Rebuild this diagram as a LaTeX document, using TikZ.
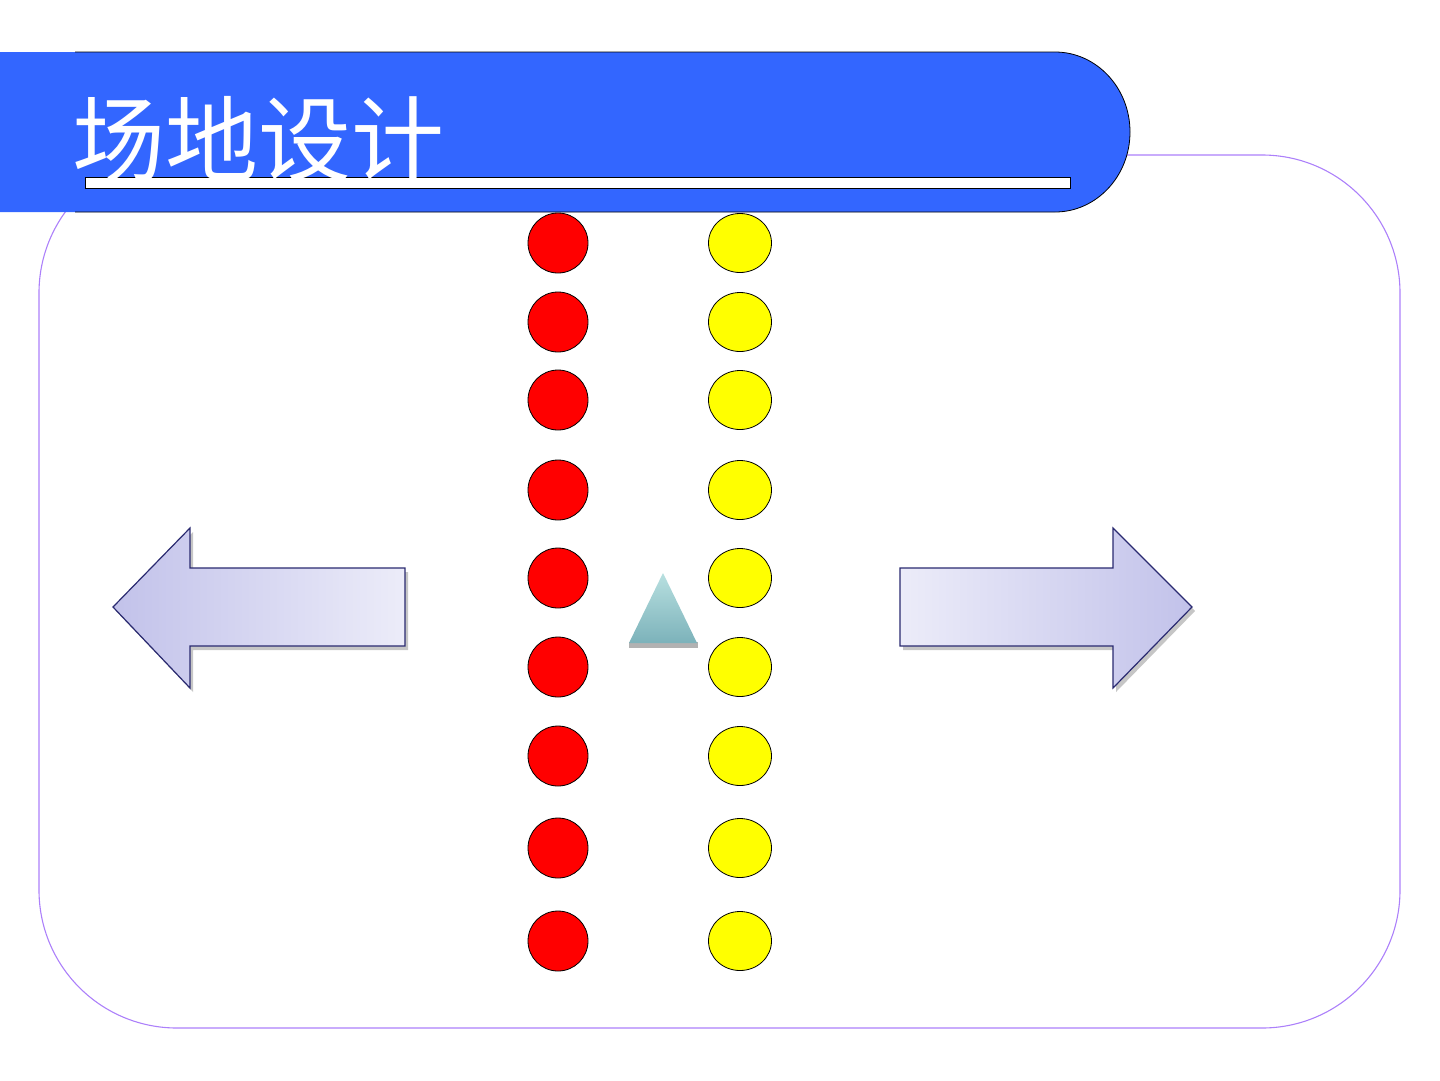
\documentclass[tikz,border=0pt]{standalone}
\usepackage{fontspec}
\usetikzlibrary{shapes.geometric}
\newfontfamily\cjk{Noto Sans CJK SC}
\definecolor{bannerblue}{RGB}{51, 102, 255}
\definecolor{lilac}{RGB}{172, 128, 250}
\definecolor{arrowline}{RGB}{42, 42, 112}
\definecolor{arrowdark}{RGB}{194, 194, 234}
\definecolor{arrowlight}{RGB}{236, 236, 249}
\definecolor{tealtop}{RGB}{184, 224, 224}
\definecolor{tealbot}{RGB}{124, 178, 186}
\definecolor{spotyellow}{RGB}{255, 255, 0}
\tikzset{
  redspot/.style={circle, draw=black, thick, fill=red, minimum size=60pt, inner sep=0pt},
  yellowspot/.style={ellipse, draw=black, thick, fill=spotyellow, minimum width=63pt, minimum height=59pt, inner sep=0pt},
  bigarrow/.style={draw=arrowline, line width=1.2pt, line join=miter}
}
\begin{document}
\begin{tikzpicture}[x=1pt, y=-1pt]
            \useasboundingbox (0,0) rectangle (1440,1080);
            % field frame
            \draw[color=lilac, line width=1.1pt, rounded corners=138pt] (39,155) rectangle (1400,1028);
            % title banner
            \fill[color=bannerblue] (0,52) -- (1055,52) arc[start angle=-90, end angle=90, x radius=75, y radius=80] -- (0,212) -- cycle;
            \draw[color=black, thick] (75,52) -- (1055,52) arc[start angle=-90, end angle=90, x radius=75, y radius=80] -- (75,212);
            \filldraw[color=black, fill=white, thick] (85,177) rectangle (1070,188);
            \node[text=white, anchor=base west, inner sep=0pt] (title) at (72,174) {\fontsize{93}{93}\selectfont\cjk 场地设计};
            % arrows
            \fill[color=gray!45] (116,611) -- (193,532) -- (193,572) -- (408,572) -- (408,650) -- (193,650) -- (193,692) -- cycle;
            \shade[left color=arrowdark, right color=arrowlight] (113,607) -- (190,528) -- (190,568) -- (405,568) -- (405,646) -- (190,646) -- (190,688) -- cycle;
            \draw[bigarrow] (113,607) -- (190,528) -- (190,568) -- (405,568) -- (405,646) -- (190,646) -- (190,688) -- cycle;
            \fill[color=gray!45] (1195,611) -- (1116,532) -- (1116,572) -- (903,572) -- (903,650) -- (1116,650) -- (1116,692) -- cycle;
            \shade[left color=arrowlight, right color=arrowdark] (1192,607) -- (1113,528) -- (1113,568) -- (900,568) -- (900,646) -- (1113,646) -- (1113,688) -- cycle;
            \draw[bigarrow] (1192,607) -- (1113,528) -- (1113,568) -- (900,568) -- (900,646) -- (1113,646) -- (1113,688) -- cycle;
            % coach
            \fill[color=gray!60] (629,642) rectangle (698,648);
            \shade[top color=tealtop, bottom color=tealbot] (663,573) -- (697,643) -- (629,643) -- cycle;
            % players
            \foreach \y [count=\i] in {243, 322, 400, 490, 578, 667, 756, 848, 941} {
                \node[redspot]    (red\i)    at (558,\y) {};
                \node[yellowspot] (yellow\i) at (740,\y) {};
            }
        \end{tikzpicture}
\end{document}
